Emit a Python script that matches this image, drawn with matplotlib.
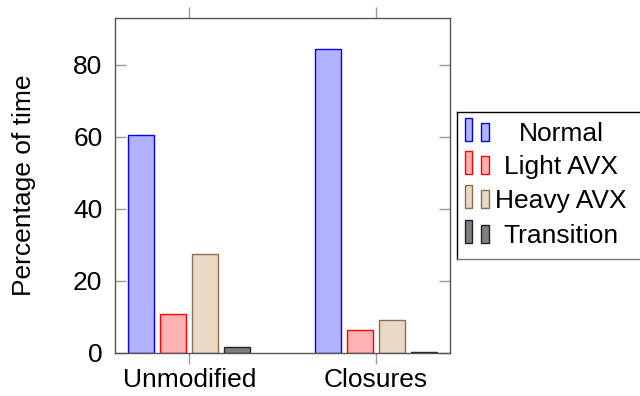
import numpy as np
import matplotlib.pyplot as plt
from matplotlib.patches import Rectangle

plt.rcParams['font.family'] = ['Liberation Sans', 'DejaVu Sans']

categories = ["Unmodified", "Closures"]
series = ["Normal", "Light AVX", "Heavy AVX", "Transition"]
normal = [60.4, 84.4]
light_avx = [10.9, 6.5]
heavy_avx = [27.5, 9.2]
transition = [1.7, 0.4]

values = [normal, light_avx, heavy_avx, transition]
edge_colors = ["#0000ff", "#ff0000", "#8c6d4f", "#222222"]
face_colors = ["#b2b2ff", "#ffb2b2", "#e9d8c4", "#7f7f7f"]

FS = 19

fig = plt.figure(figsize=(6.4, 3.96), dpi=100)
ax = fig.add_axes([115 / 640, 1 - 353 / 396, 335 / 640, 335 / 396])

x = np.arange(len(categories))
width = 0.14
step = 0.172
for i, vals in enumerate(values):
    offs = (i - 1.5) * step
    ax.bar(x + offs, vals, width, color=face_colors[i], edgecolor=edge_colors[i],
           linewidth=1.0, label=series[i])

ax.set_xlim(-0.4, 1.4)
ax.set_ylim(0, 93)
ax.set_xticks(x)
ax.set_xticklabels(categories, fontsize=FS)
ax.set_yticks([0, 20, 40, 60, 80])
ax.tick_params(axis='y', direction='in', left=True, right=True, length=8,
               color='#999999', width=1, labelsize=FS, pad=9)
ax.tick_params(axis='x', direction='out', bottom=True, top=True, length=8,
               color='#999999', width=1, labelsize=FS, pad=3)
for s in ax.spines.values():
    s.set_color('#555555')
    s.set_linewidth(1)
ax.set_ylabel("Percentage of time", fontsize=FS, labelpad=27)

# pgfplots-like legend with two small bars per entry
lx0, ly0, lx1, ly1 = 456.5, 112, 645, 259
lax = fig.add_axes([lx0 / 640, 1 - ly1 / 396, (lx1 - lx0) / 640, (ly1 - ly0) / 396])
lax.set_xlim(lx0, lx1)
lax.set_ylim(ly1, ly0)
lax.set_xticks([])
lax.set_yticks([])
for s in lax.spines.values():
    s.set_color('black')
    s.set_linewidth(1)
lax.spines['bottom'].set_color('#777777')
rows = [131, 164, 198, 233]
for i, name in enumerate(series):
    yb = rows[i] + 10
    lax.add_patch(Rectangle((464.5, yb - 23), 7, 23, facecolor=face_colors[i],
                            edgecolor=edge_colors[i], linewidth=1))
    lax.add_patch(Rectangle((480.5, yb - 18), 8, 18, facecolor=face_colors[i],
                            edgecolor=edge_colors[i], linewidth=1))
    lax.text(561, rows[i] + 3, name, fontsize=FS, ha='center', va='center')

fig.savefig("out.png", dpi=100)
